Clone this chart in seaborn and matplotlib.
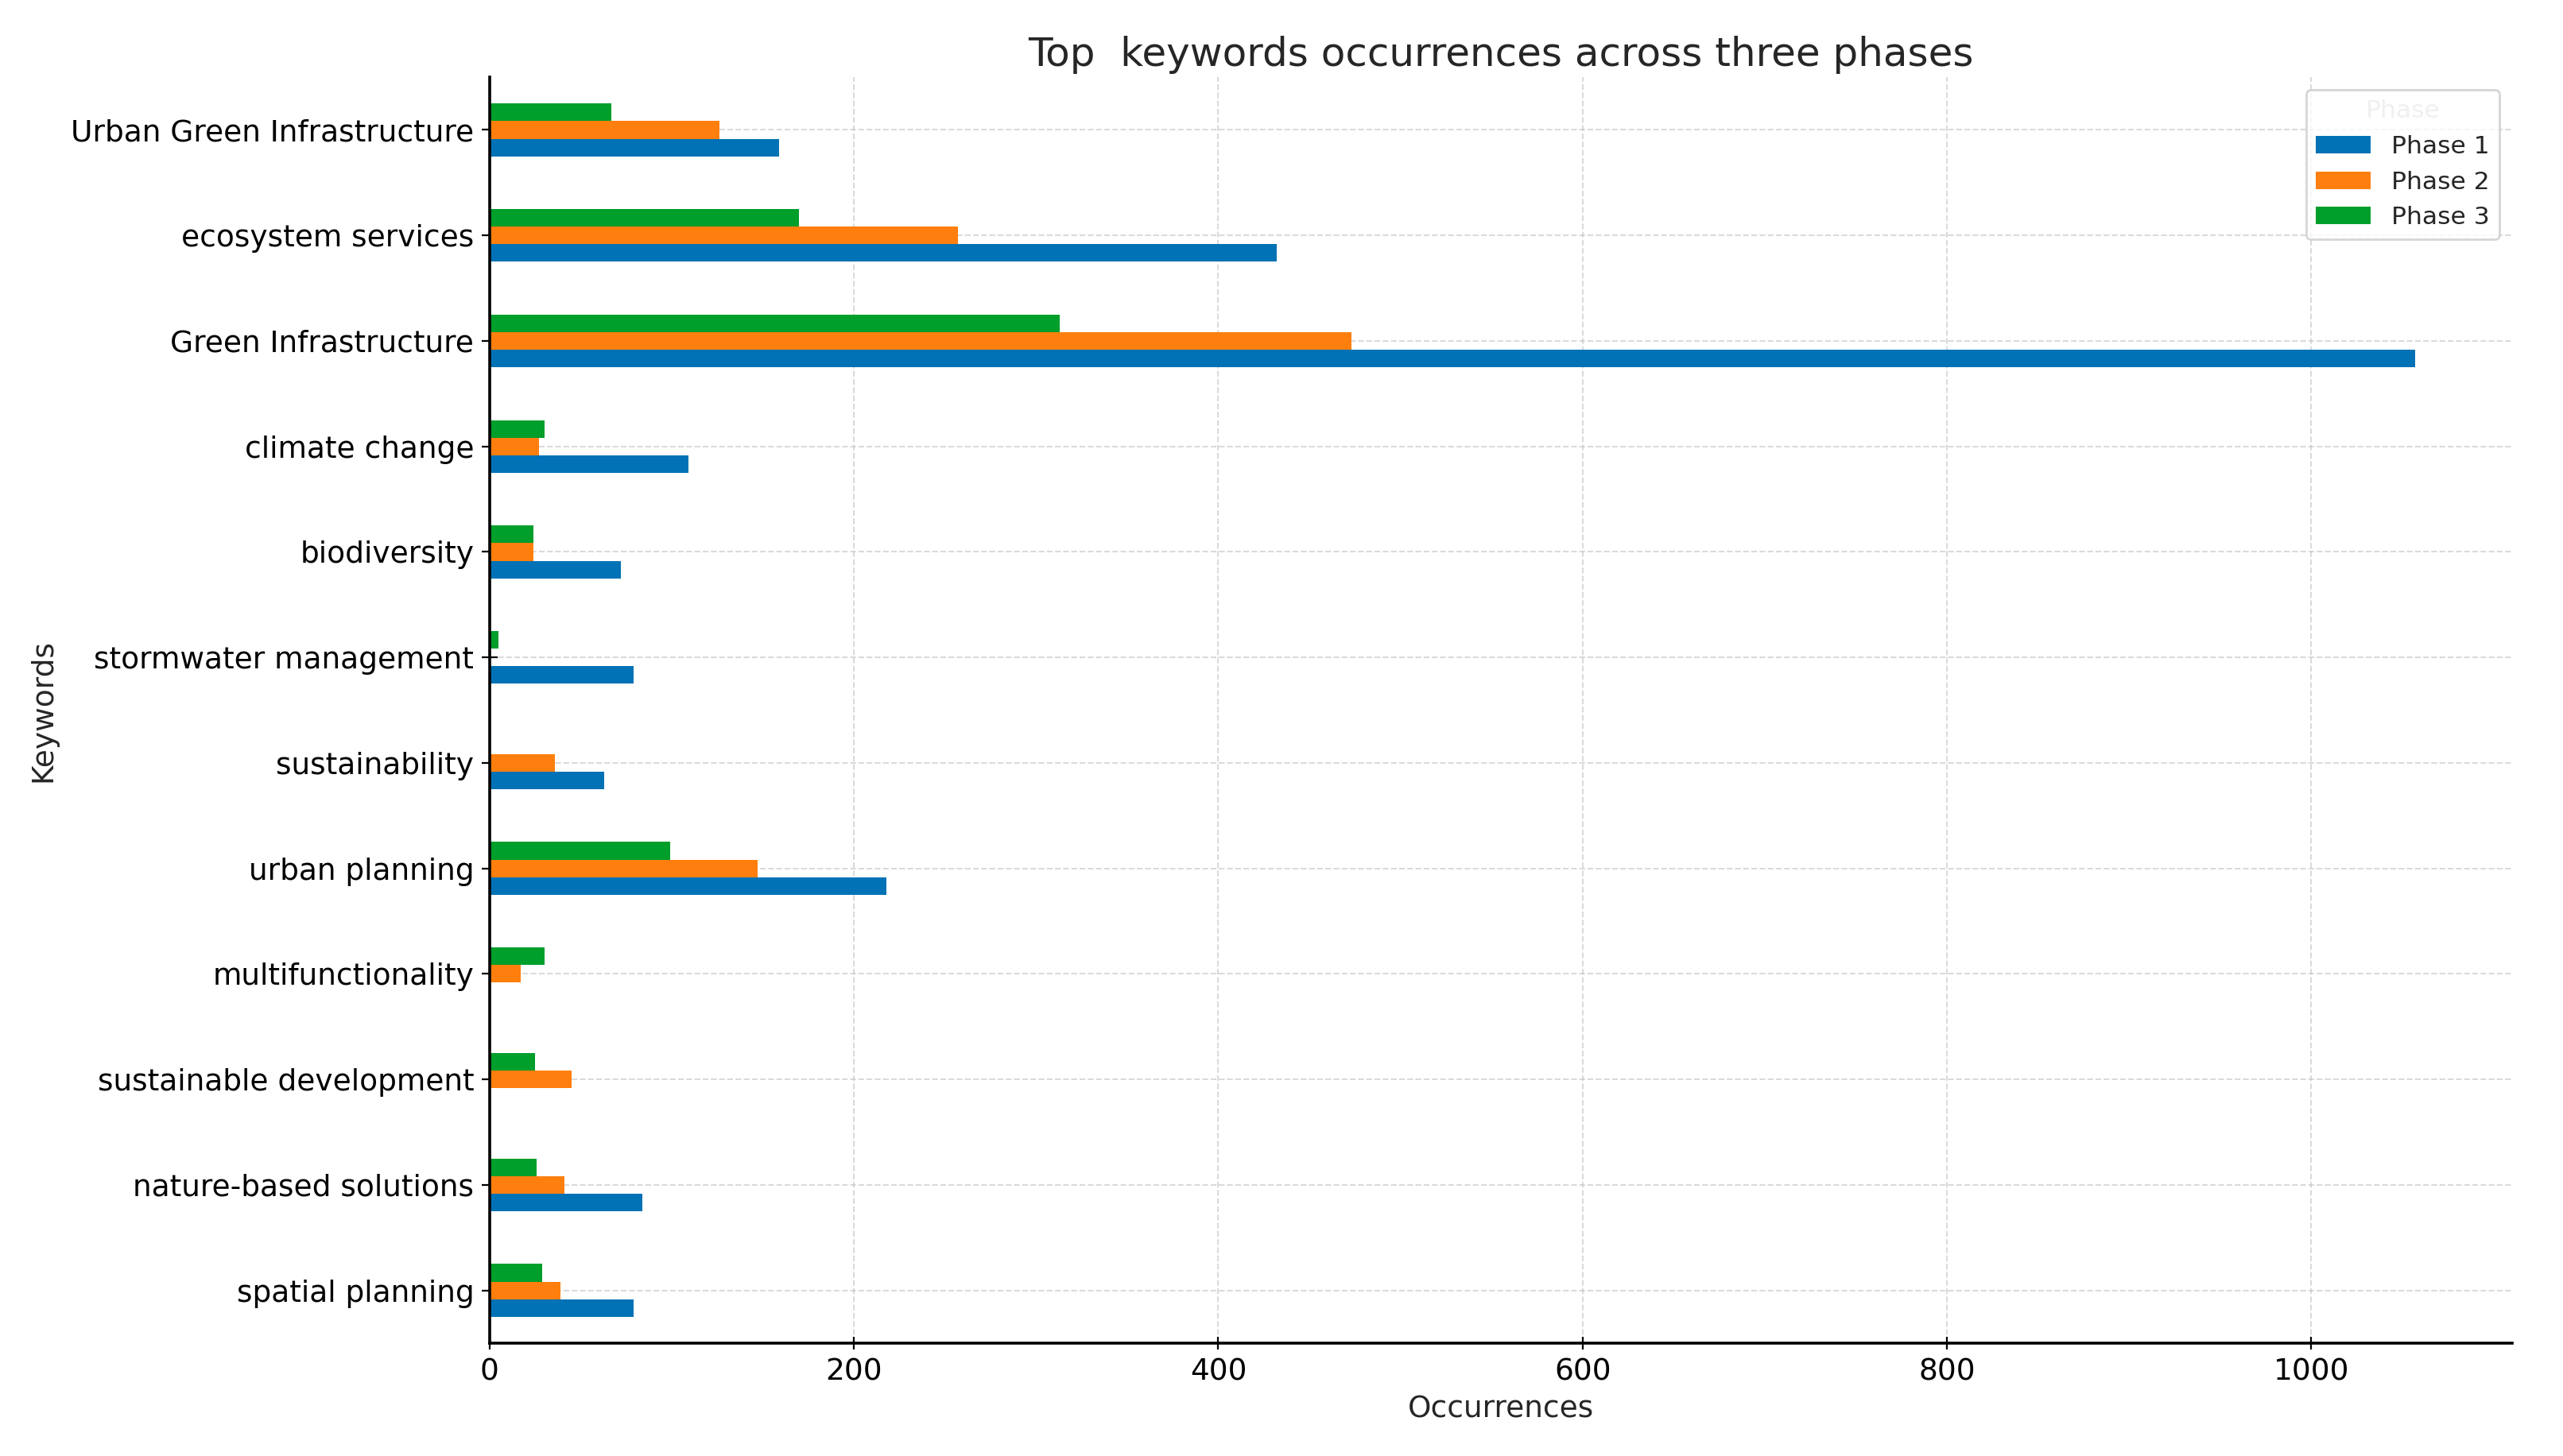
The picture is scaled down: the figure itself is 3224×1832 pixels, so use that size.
"""
Top keywords occurrences across three phases (horizontal grouped bars).
"""

import pandas as pd
import seaborn as sns
import matplotlib.pyplot as plt


keywords = [
    "Urban Green Infrastructure",
    "ecosystem services",
    "Green Infrastructure",
    "climate change",
    "biodiversity",
    "stormwater management",
    "sustainability",
    "urban planning",
    "multifunctionality",
    "sustainable development",
    "nature-based solutions",
    "spatial planning",
]

phase_1 = [159, 432, 1057, 109, 72, 79, 63, 218, 0, 0, 84, 79]
phase_2 = [126, 257, 473, 27, 24, 0, 36, 147, 17, 45, 41, 39]
phase_3 = [67, 170, 313, 30, 24, 5, 0, 99, 30, 25, 26, 29]

phases = ["Phase 1", "Phase 2", "Phase 3"]
phase_colors = {"Phase 1": "#0072B5", "Phase 2": "#FF7F0E", "Phase 3": "#009E2A"}


def build_dataframe() -> pd.DataFrame:
    frames = []
    for name, values in zip(phases, [phase_1, phase_2, phase_3]):
        frames.append(pd.DataFrame({
            "Keywords": keywords,
            "Occurrences": values,
            "Phase": name,
        }))
    return pd.concat(frames, ignore_index=True)


def main() -> None:
    data = build_dataframe()

    sns.set_style("ticks")
    plt.rcParams["font.family"] = ["DejaVu Sans"]

    fig, ax = plt.subplots(figsize=(16.12, 9.16), dpi=200)
    fig.subplots_adjust(left=0.191, right=0.980, top=0.947, bottom=0.0775)

    # Phase 1 sits at the bottom of each group, so draw hues in reverse
    sns.barplot(
        data=data,
        y="Keywords",
        x="Occurrences",
        hue="Phase",
        order=keywords,
        hue_order=phases[::-1],
        palette=phase_colors,
        orient="h",
        width=0.5,
        saturation=1,
        linewidth=0,
        ax=ax,
    )

    ax.set_xlim(0, 1110)
    ax.set_axisbelow(True)
    ax.grid(True, linestyle="--", color="#c0c0c0", linewidth=0.7, alpha=0.6)
    sns.despine(ax=ax)
    for side in ["left", "bottom"]:
        ax.spines[side].set_linewidth(1.3)
        ax.spines[side].set_color("black")

    ax.tick_params(axis="both", labelsize=13.5, colors="black")
    ax.tick_params(axis="y", direction="inout", length=7)
    ax.tick_params(axis="x", direction="inout", length=6)

    ax.set_title("Top  keywords occurrences across three phases", fontsize=18, pad=5)
    ax.set_xlabel("Occurrences", fontsize=13.5)
    ax.set_ylabel("Keywords", fontsize=13.5, labelpad=6)

    handles, labels = ax.get_legend_handles_labels()
    legend = ax.legend(
        handles[::-1],
        labels[::-1],
        title="Phase",
        loc="upper right",
        fontsize=11.3,
        title_fontsize=11.3,
        handlelength=2.2,
    )
    legend.get_title().set_color("#f0f0f0")

    fig.savefig("out.png", dpi=200)


if __name__ == "__main__":
    main()
